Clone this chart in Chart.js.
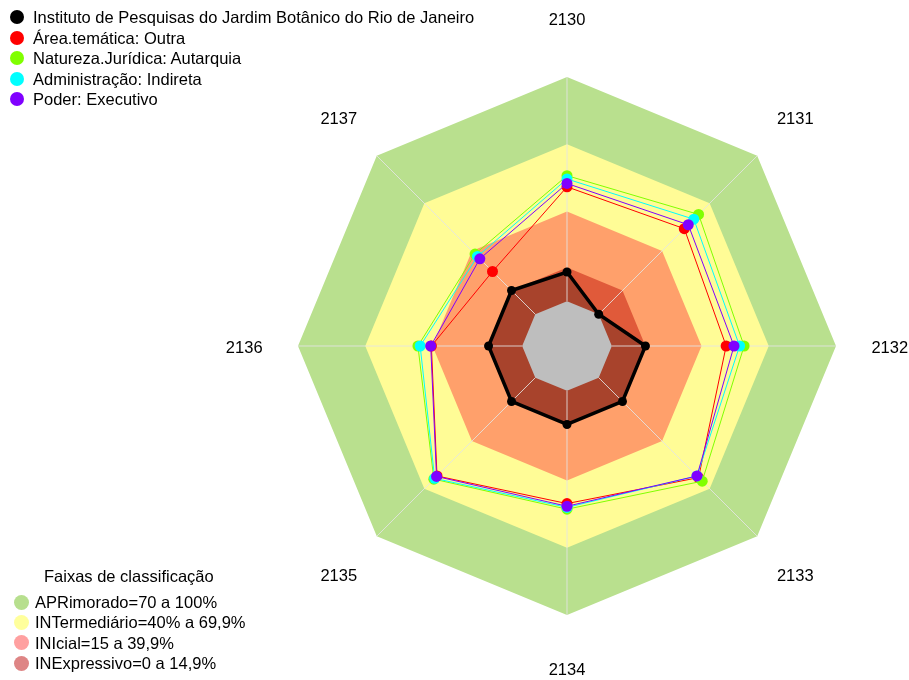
<!DOCTYPE html>
<html>
<head>
<meta charset="utf-8">
<script src="https://cdn.jsdelivr.net/npm/chart.js@4/dist/chart.umd.min.js"></script>
<style>
  body { margin: 0; background: #fff; font-family: "Liberation Sans", Arial, sans-serif; }
  #wrap { position: relative; width: 909px; height: 680px; }
  canvas { position: absolute; left: 0; top: 0; }
  .leg { position: absolute; font-size: 16.5px; color: #000; white-space: nowrap; line-height: 20px; }
  .dot { position: absolute; border-radius: 50%; }
</style>
</head>
<body>
<div id="wrap">
  <canvas id="chart" width="909" height="680"></canvas>
</div>
<script>
// axis categories (years / codes)
const categories = ['2130', '2131', '2132', '2133', '2134', '2135', '2136', '2137'];

// series values, %
const instituto = [13, 0, 15, 15, 15, 15, 15, 15];
const areaTematica = [51, 54, 51, 63, 50.3, 62, 40.5, 27];
const naturezaJuridica = [56, 63, 59, 65.3, 52.8, 64, 46.5, 38];
const administracao = [54.5, 60, 57, 62, 52, 63.5, 45.5, 36.5];
const poder = [52.5, 56.5, 54.5, 62, 51.5, 62.3, 40.8, 35];

const seriesNames = [
  'Instituto de Pesquisas do Jardim Botânico do Rio de Janeiro',
  'Área.temática: Outra',
  'Natureza.Jurídica: Autarquia',
  'Administração: Indireta',
  'Poder: Executivo'
];
const seriesColors = ['#000000', '#FF0000', '#80FF00', '#00FFFF', '#8000FF'];

// classification bands (upper limit of each band)
const bandNames = ['APRimorado=70 a 100%', 'INTermediário=40% a 69,9%', 'INIcial=15 a 39,9%', 'INExpressivo=0 a 14,9%'];
const bandLimits = [100, 70, 40, 15];
const bandFill = ['#B9E08E', '#FFFC96', '#FFA06B', '#E05A3A'];
const bandLegend = ['#B7DF8E', '#FFFF9C', '#FFA0A0', '#DE8585'];

const centerValue = [0, 0, 0, 0, 0, 0, 0, 0];

// ---- legends (html text) ----
const wrap = document.getElementById('wrap');
function addDot(x, y, r, color) {
  const d = document.createElement('div');
  d.className = 'dot';
  d.style.left = (x - r) + 'px';
  d.style.top = (y - r) + 'px';
  d.style.width = d.style.height = (2 * r) + 'px';
  d.style.background = color;
  wrap.appendChild(d);
}
function addText(x, y, txt) {
  const t = document.createElement('div');
  t.className = 'leg';
  t.style.left = x + 'px';
  t.style.top = (y - 10) + 'px';
  t.textContent = txt;
  wrap.appendChild(t);
}
seriesNames.forEach((name, i) => {
  const y = 17 + i * 20.5;
  addDot(17, y, 7, seriesColors[i]);
  addText(33, y, name);
});
addText(44, 576, 'Faixas de classificação');
bandNames.forEach((name, i) => {
  const y = 602 + i * 20.4;
  addDot(21, y, 7.5, bandLegend[i]);
  addText(35, y, name);
});

// ---- plugins ----
// spokes drawn over the band fills, under the series lines
const spokes = {
  id: 'spokes',
  beforeDatasetsDraw(chart) {
    const s = chart.scales.r, ctx = chart.ctx;
    ctx.save();
    ctx.strokeStyle = 'rgba(228,228,228,0.85)';
    ctx.lineWidth = 1;
    for (let i = 0; i < categories.length; i++) {
      const a = s.getPointPositionForValue(i, 0);
      const b = s.getPointPositionForValue(i, 100);
      ctx.beginPath();
      ctx.moveTo(a.x, a.y);
      ctx.lineTo(b.x, b.y);
      ctx.stroke();
    }
    ctx.restore();
  }
};
const axisLabels = {
  id: 'axisLabels',
  afterDraw(chart) {
    const s = chart.scales.r, ctx = chart.ctx;
    ctx.save();
    ctx.font = '16.5px "Liberation Sans", Arial, sans-serif';
    ctx.fillStyle = '#000';
    ctx.textAlign = 'center';
    ctx.textBaseline = 'middle';
    categories.forEach((c, i) => {
      const p = s.getPointPosition(i, s.drawingArea * 1.2);
      const dy = i === 0 ? -3 : 2;
      ctx.fillText(c, p.x, p.y + dy);
    });
    ctx.restore();
  }
};

function series(data, color, w, pr) {
  return {
    data, borderColor: color, borderWidth: w, fill: false,
    pointRadius: pr, pointBackgroundColor: color, pointBorderWidth: 0, pointHoverRadius: pr
  };
}
function area(data, color, fill) {
  return {
    data, borderWidth: 0, borderColor: 'rgba(0,0,0,0)', backgroundColor: color,
    fill, pointRadius: 0, pointHoverRadius: 0
  };
}
const bandSets = bandLimits.map((v, i) => area(categories.map(() => v), bandFill[i], 'start')).reverse();

const blackSet = series(instituto, '#000000', 3.5, 4.5);
blackSet.fill = 'start';
blackSet.backgroundColor = '#A8432C';

new Chart(document.getElementById('chart'), {
  type: 'radar',
  data: {
    labels: categories,
    datasets: [
      area(centerValue, '#BEBEBE', 'start'),
      series(poder, seriesColors[4], 1, 5.5),
      series(administracao, seriesColors[3], 1, 5.5),
      series(naturezaJuridica, seriesColors[2], 1, 5.5),
      series(areaTematica, seriesColors[1], 1, 5.5),
      blackSet
    ].concat(bandSets)
  },
  options: {
    responsive: false,
    devicePixelRatio: 1,
    animation: false,
    layout: { padding: { top: 77, bottom: 64, left: 298, right: 72 } },
    elements: { line: { tension: 0 } },
    plugins: {
      legend: { display: false },
      tooltip: { enabled: false },
      filler: { drawTime: 'beforeDatasetsDraw' }
    },
    scales: {
      r: {
        min: -20, max: 100,
        startAngle: 0,
        grid: { display: false },
        angleLines: { display: false },
        ticks: { display: false },
        pointLabels: { display: false }
      }
    }
  },
  plugins: [spokes, axisLabels]
});
</script>
</body>
</html>
